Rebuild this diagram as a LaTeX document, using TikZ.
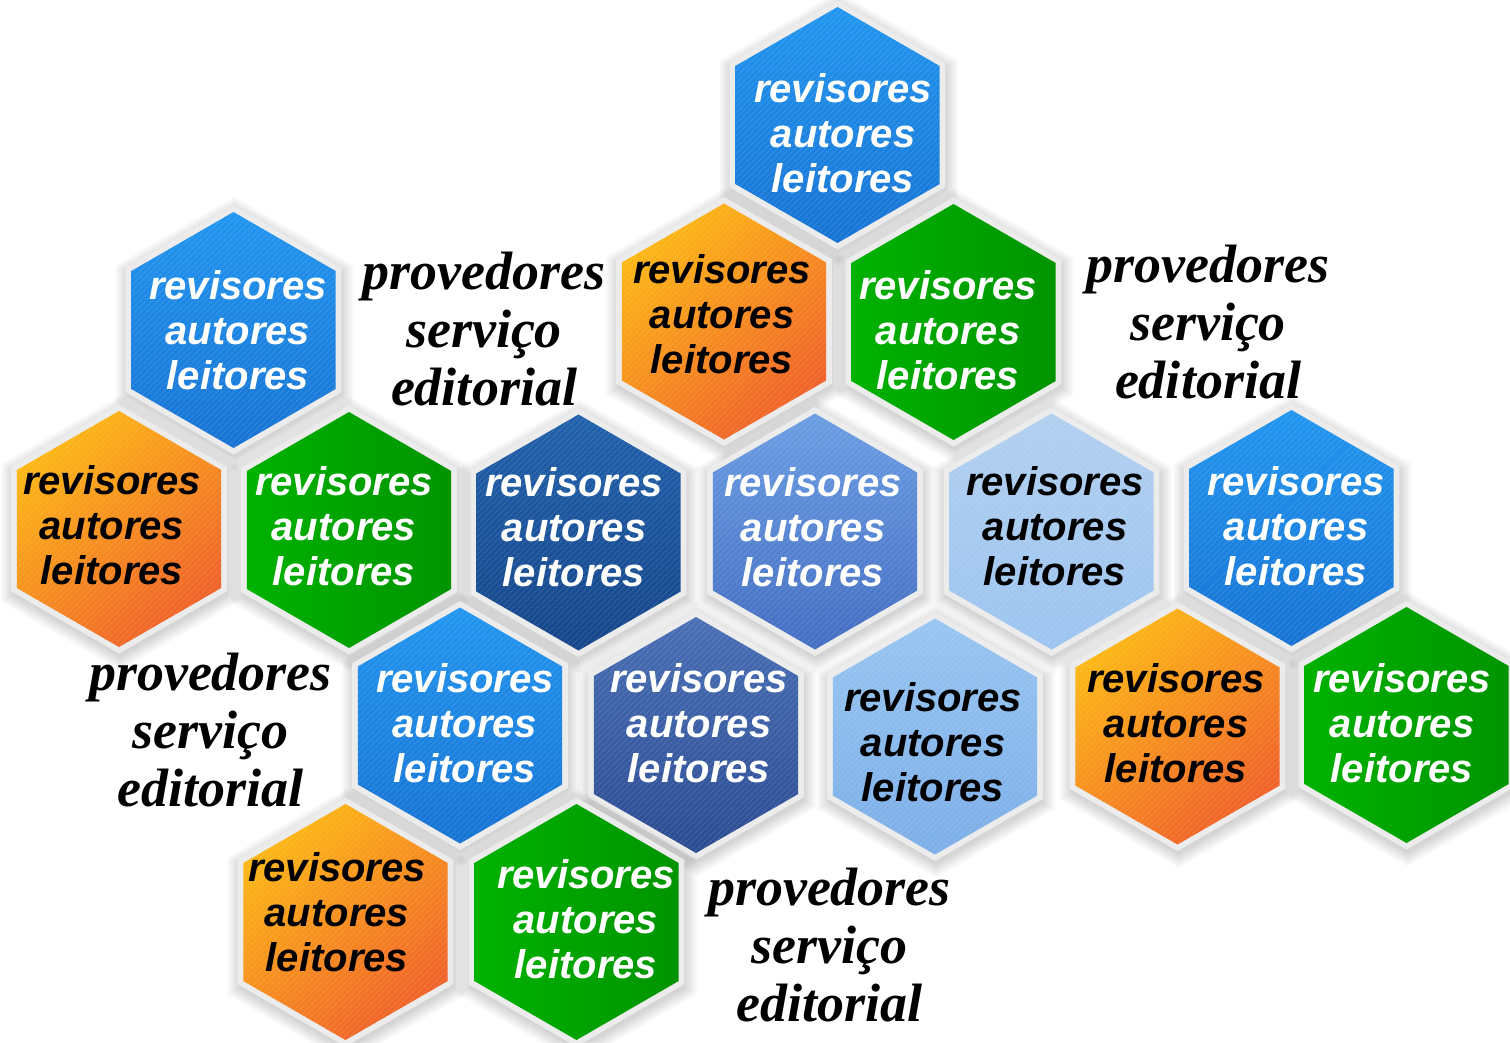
\documentclass[tikz,border=0pt]{standalone}
\usepackage{fontspec}
\usetikzlibrary{patterns.meta}
\newfontfamily\hexfont{Liberation Sans}
\newfontfamily\provfont{Liberation Serif}
\definecolor{rimgray}{RGB}{236,236,236}
\definecolor{blueT}{RGB}{34,150,240}
\definecolor{blueB}{RGB}{24,116,212}
\definecolor{orT}{RGB}{253,184,22}
\definecolor{orB}{RGB}{240,98,42}
\definecolor{grL}{RGB}{0,178,0}
\definecolor{grR}{RGB}{0,148,0}
\definecolor{dbT}{RGB}{34,98,172}
\definecolor{dbB}{RGB}{22,70,138}
\definecolor{mbT}{RGB}{108,158,228}
\definecolor{mbB}{RGB}{68,110,194}
\definecolor{lbT}{RGB}{178,208,240}
\definecolor{lbB}{RGB}{156,196,240}
\definecolor{slT}{RGB}{74,112,182}
\definecolor{slB}{RGB}{44,76,146}
\definecolor{l2T}{RGB}{152,198,242}
\definecolor{l2B}{RGB}{124,174,232}
\tikzset{
  hextext/.style={font=\hexfont\bfseries\itshape\fontsize{40}{45}\selectfont, align=center, inner sep=0pt},
  provtext/.style={font=\provfont\bfseries\itshape\fontsize{54}{58}\selectfont, align=center, inner sep=0pt, text=black},
  hexrim/.style={fill=rimgray},
  hatch/.style={pattern={Lines[angle=45,distance=4pt,line width=0.8pt]}, pattern color=white, fill opacity=0.14},
  nohatch/.style={fill opacity=0},
  cblue/.style={top color=blueT, bottom color=blueB},
  corange/.style={top color=orT, bottom color=orB, shading angle=40},
  cgreen/.style={left color=grL, right color=grR},
  cdark/.style={top color=dbT, bottom color=dbB},
  cmed/.style={top color=mbT, bottom color=mbB},
  clight/.style={top color=lbT, bottom color=lbB},
  cslate/.style={top color=slT, bottom color=slB},
  clight2/.style={top color=l2T, bottom color=l2B},
}
\newcommand\hexpath[1]{(90:#1) -- (30:#1) -- (-30:#1) -- (-90:#1) -- (-150:#1) -- (150:#1) -- cycle}
% name, cx, cy, colour style, hatch style, text colour, text x, text y
\newcommand\hexcell[8]{%
  \begin{scope}[shift={(#2,#3)}]
    \foreach \k [evaluate=\k as \r using 122+2.2*\k] in {1,...,7}
      {\fill[black, opacity=0.022, shift={(1,4)}] \hexpath{\r};}
    \fill[hexrim] \hexpath{124.5};
    \shade[#4] \hexpath{118};
    \fill[#5] \hexpath{118};
  \end{scope}
  \node[hextext, text=#6] (#1) at (#7,#8) {revisores\\autores\\leitores};
}
\begin{document}
\begin{tikzpicture}[x=1pt, y=-1pt]
\fill[white] (0,0) rectangle (1510,1042);
\useasboundingbox (0,0) rectangle (1510,1042);

\hexcell{h1}{837.5}{125}{cblue}{hatch}{white}{843}{133}
\hexcell{h2}{233.5}{330}{cblue}{hatch}{white}{238}{330}
\hexcell{h3}{724}{321.5}{corange}{hatch}{black}{722}{314}
\hexcell{h4}{953.5}{322}{cgreen}{nohatch}{white}{948}{330}
\hexcell{h5}{119}{529}{corange}{hatch}{black}{112}{525}
\hexcell{h6}{349}{530}{cgreen}{nohatch}{white}{344}{526}
\hexcell{h7}{578.5}{532.5}{cdark}{hatch}{white}{574}{527}
\hexcell{h8}{815}{531.5}{cmed}{hatch}{white}{813}{527}
\hexcell{h9}{1051.5}{531.5}{clight}{hatch}{black}{1055}{526}
\hexcell{h10}{1291.5}{528}{cblue}{hatch}{white}{1296}{526}
\hexcell{h11}{460}{725.5}{cblue}{hatch}{white}{465}{723}
\hexcell{h12}{696}{735}{cslate}{hatch}{white}{699}{723}
\hexcell{h13}{935}{736.5}{clight2}{hatch}{black}{933}{742}
\hexcell{h14}{1177.5}{726.5}{corange}{hatch}{black}{1176}{723}
\hexcell{h15}{1406.5}{725}{cgreen}{nohatch}{white}{1402}{723}
\hexcell{h16}{345.5}{922}{corange}{hatch}{black}{337}{912}
\hexcell{h17}{576.5}{922}{cgreen}{nohatch}{white}{586}{919}

\node[provtext] (p1) at (484,329.5) {provedores\\serviço\\editorial};
\node[provtext] (p2) at (1208,322.5) {provedores\\serviço\\editorial};
\node[provtext] (p3) at (210.5,730.5) {provedores\\serviço\\editorial};
\node[provtext] (p4) at (829.5,945.5) {provedores\\serviço\\editorial};
\end{tikzpicture}
\end{document}
